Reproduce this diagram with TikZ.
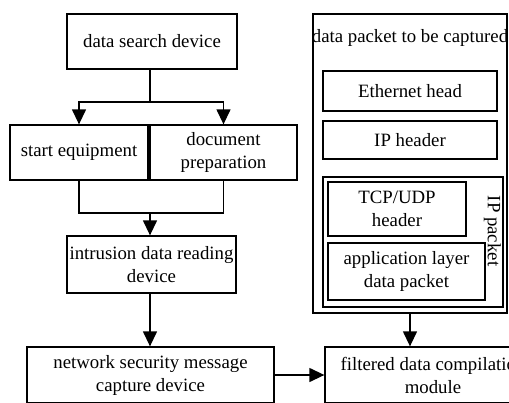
\documentclass[tikz,border=0pt]{standalone}
\usepackage{fontspec}
\setmainfont{Liberation Serif}
\usetikzlibrary{arrows.meta,calc}
\begin{document}
\begin{tikzpicture}[x=1pt,y=-1pt,
  line width=1.3pt,
  box/.style={draw,rectangle,inner sep=0pt,align=center,
    font=\fontsize{18.8}{23}\selectfont},
  lbl/.style={inner sep=0pt,font=\fontsize{18.8}{23}\selectfont},
  arr/.style={-{Triangle[length=15pt,width=14pt]}}]
\useasboundingbox (0,0) rectangle (509,402);
\begin{scope}
\clip (0,0) rectangle (509,402);

% left column
\node[box,minimum width=170pt,minimum height=55pt] (search) at (152,41.5) {data search device};
\node[box,minimum width=138pt,minimum height=55pt] (start) at (79,152.5) {start equipment};
\node[box,minimum width=147pt,minimum height=55pt] (doc) at (223.5,152.5) {document\\preparation};
\node[box,minimum width=169pt,minimum height=57pt] (intr) at (151.5,264.5) {intrusion data reading\\device};
\node[box,minimum width=247pt,minimum height=56pt] (net) at (150.5,375) {network security message\\capture device};

% packet structure
\node[draw,rectangle,inner sep=0pt,minimum width=194pt,minimum height=299pt] (outer) at (410,163.5) {};
\node[lbl] (title) at (410,38) {data packet to be captured};
\node[box,minimum width=174pt,minimum height=40pt] (eth) at (410,91) {Ethernet head};
\node[box,minimum width=174pt,minimum height=38pt] (iph) at (410,140) {IP header};
\node[draw,rectangle,inner sep=0pt,minimum width=180pt,minimum height=130pt] (ippkt) at (413,242) {};
\node[box,minimum width=138pt,minimum height=54pt] (tcp) at (397,209) {TCP/UDP\\header};
\node[box,minimum width=157pt,minimum height=57pt] (app) at (406.5,271.5) {application layer\\data packet};
\node[lbl,rotate=-90] (iplbl) at (492.5,231) {IP packet};

\node[box,minimum width=216pt,minimum height=56pt] (filt) at (433,375) {filtered data compilation\\module};

% connectors
\coordinate (split) at (150,102);
\coordinate (join) at (150,213);
\draw ($(search.south)+(-2,0)$) -- (split);
\draw[arr] (split) -| (start.north);
\draw[arr] (split) -| (doc.north);
\draw (start.south) |- (join);
\draw (doc.south) |- (join);
\draw[arr] (join) -- (join |- intr.north);
\draw[arr] (intr.south -| join) -- (join |- net.north);
\draw[arr] (outer.south) -- (outer.south |- filt.north);
\draw[arr] (net.east) -- (filt.west);
\end{scope}
\end{tikzpicture}
\end{document}
